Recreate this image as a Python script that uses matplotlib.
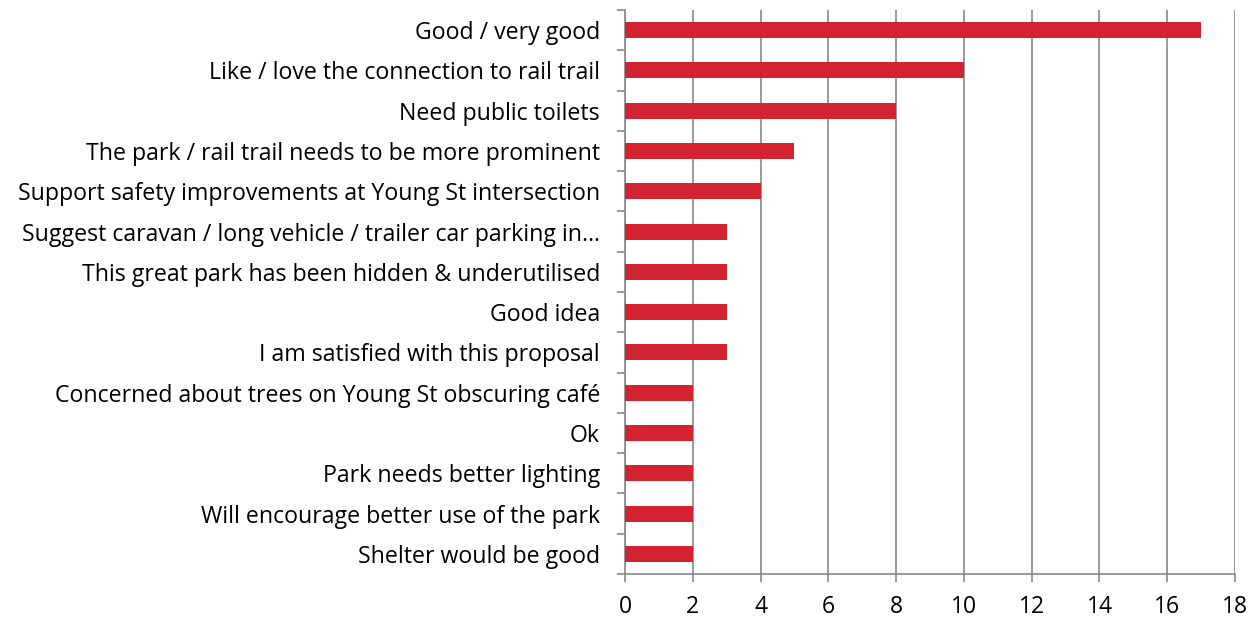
import matplotlib.pyplot as plt
import numpy as np

# categories top to bottom
labels = [
    "Good / very good",
    "Like / love the connection to rail trail",
    "Need public toilets",
    "The park / rail trail needs to be more prominent",
    "Support safety improvements at Young St intersection",
    "Suggest caravan / long vehicle / trailer car parking in\u2026",
    "This great park has been hidden & underutilised",
    "Good idea",
    "I am satisfied with this proposal",
    "Concerned about trees on Young St obscuring café",
    "Ok",
    "Park needs better lighting",
    "Will encourage better use of the park",
    "Shelter would be good",
]
counts = [17, 10, 8, 5, 4, 3, 3, 3, 3, 2, 2, 2, 2, 2]
x_ticks = [0, 2, 4, 6, 8, 10, 12, 14, 16, 18]

plt.rcParams['font.family'] = ['Open Sans', 'DejaVu Sans']

fig = plt.figure(figsize=(12.52, 6.19), dpi=100)
ax = fig.add_axes([625 / 1252, 1 - 574 / 619, 610 / 1252, 564 / 619])

n = len(labels)
pos = np.arange(n)[::-1]
ax.barh(pos, counts, height=0.4, color='#D42330', zorder=3)

ax.set_xlim(0, 18)
ax.set_ylim(-0.5, n - 0.5)
ax.set_xticks(x_ticks)
ax.set_xticklabels([str(t) for t in x_ticks], fontsize=16.5)
ax.set_yticks(pos)
ax.set_yticklabels(labels, fontsize=16.7)

# category separators on the left spine
ax.set_yticks(np.arange(n + 1) - 0.5, minor=True)
ax.tick_params(axis='y', which='major', length=0, pad=18)
ax.tick_params(axis='y', which='minor', length=6, color='#888888', width=1.2)
ax.tick_params(axis='x', length=6, color='#888888', width=1.2, pad=9)

ax.grid(axis='x', color='#888888', linewidth=1.2, zorder=0)
for s in ['top', 'right']:
    ax.spines[s].set_visible(False)
for s in ['left', 'bottom']:
    ax.spines[s].set_color('#888888')
    ax.spines[s].set_linewidth(1.2)

fig.savefig('out.png', dpi=100)
